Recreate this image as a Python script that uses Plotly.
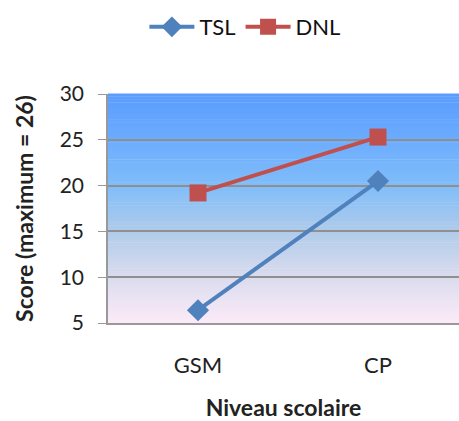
import plotly.graph_objects as go

# Data
levels = ["GSM", "CP"]
tsl_scores = [6.4, 20.5]
dnl_scores = [19.2, 25.3]
y_ticks = [5, 10, 15, 20, 25, 30]

FONT = "Lato, Carlito, 'Open Sans', sans-serif"

fig = go.Figure()
fig.add_trace(go.Scatter(
    x=levels, y=tsl_scores, name="TSL", mode="lines+markers",
    line=dict(color="#4F81BD", width=4),
    marker=dict(symbol="diamond", size=17, color="#4F81BD"),
))
fig.add_trace(go.Scatter(
    x=levels, y=dnl_scores, name="DNL", mode="lines+markers",
    line=dict(color="#C0504D", width=4),
    marker=dict(symbol="square", size=17, color="#C0504D"),
))

# Vertical gradient fill for the plot area, built from thin bands
stops = [
    (0.0, (252, 234, 248)),
    (0.2, (218, 220, 238)),
    (0.4, (176, 203, 234)),
    (0.6, (128, 189, 249)),
    (0.8, (108, 172, 254)),
    (1.0, (90, 156, 254)),
]

def color_at(t):
    for (t0, c0), (t1, c1) in zip(stops[:-1], stops[1:]):
        if t0 <= t <= t1:
            f = (t - t0) / (t1 - t0)
            return "rgb(%d,%d,%d)" % tuple(round(a + (b - a) * f) for a, b in zip(c0, c1))
    return "rgb(%d,%d,%d)" % stops[-1][1]

n_bands = 80
shapes = []
for i in range(n_bands):
    y0 = i / n_bands
    y1 = (i + 1) / n_bands + 0.002
    shapes.append(dict(
        type="rect", xref="paper", yref="paper", x0=0, x1=1, y0=y0, y1=y1,
        fillcolor=color_at((i + 0.5) / n_bands), line=dict(width=0), layer="below",
    ))

fig.update_layout(
    width=459, height=421,
    margin=dict(l=108, r=0, t=94, b=98),
    paper_bgcolor="white",
    plot_bgcolor="rgba(0,0,0,0)",
    shapes=shapes,
    font=dict(family=FONT, size=21, color="#222222"),
    showlegend=True,
    legend=dict(
        orientation="h", x=0.39, xanchor="center", y=1 - 27 / 421, yref="container",
        yanchor="middle", font=dict(size=22, color="#111111"),
        itemwidth=45, tracegroupgap=0,
    ),
    xaxis=dict(
        range=[-0.5, 1.45], showgrid=False, showline=True, linecolor="#999999",
        linewidth=1.5, ticks="", ticklabelstandoff=22,
        title=dict(text="<b>Niveau scolaire</b>", standoff=25, font=dict(size=23)),
        tickfont=dict(size=22),
    ),
    yaxis=dict(
        range=[5, 30], tickvals=y_ticks, showgrid=True, gridcolor="#8F8F8F",
        gridwidth=1.5, showline=True, linecolor="#999999", linewidth=1.5,
        ticks="outside", ticklen=8, tickcolor="#999999", zeroline=False,
        title=dict(text="<b>Score (maximum = 26)</b>", standoff=20, font=dict(size=23)),
        tickfont=dict(size=21), ticklabelstandoff=10,
    ),
)

fig.write_html("out.html")
